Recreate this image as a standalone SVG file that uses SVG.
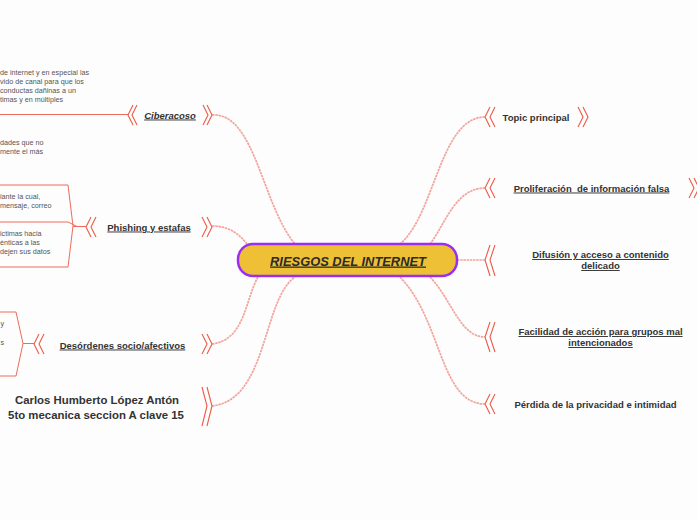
<svg xmlns="http://www.w3.org/2000/svg" width="697" height="520" viewBox="0 0 697 520">
<style>
.bg{fill:#fdfdfd}
.con{fill:none;stroke:#f2a49c;stroke-width:1.7;stroke-dasharray:2.5 0.7}
.chev{fill:none;stroke:#ec5b47;stroke-width:1.1}
.br{fill:none;stroke:#ec6b5b;stroke-width:1}
.lbl{font-family:"Liberation Sans",Arial,sans-serif;font-weight:bold;font-size:9.5px;fill:#333}
.u{text-decoration:underline}
.it{font-style:italic}
.sm{font-family:"Liberation Sans",Arial,sans-serif;font-size:7.2px;fill:#555}
.au{font-family:"Liberation Sans",Arial,sans-serif;font-weight:bold;font-size:11.4px;fill:#333}
</style>
<rect class="bg" x="0" y="0" width="697" height="520"/>
<g id="connectors">
<path class="con" d="M212,115 C255,112 262,205 295,244"/>
<path class="con" d="M212,226 C230,226 240,235 247,244"/>
<path class="con" d="M212,344 C245,340 245,300 258,277"/>
<path class="con" d="M212,406 C268,400 262,300 295,277"/>
<path class="con" d="M485,117 C440,117 435,215 400,244"/>
<path class="con" d="M485,188 C455,188 445,225 430,244"/>
<path class="con" d="M457,260 L485,260"/>
<path class="con" d="M430,277 C452,300 460,337 485,337"/>
<path class="con" d="M400,277 C442,320 440,404 485,404"/>
</g>
<g id="central">
<rect x="238" y="244" width="219" height="32" rx="15" fill="#edc035" stroke="#9b2ef2" stroke-width="2.5"/>
<text x="348" y="265.5" text-anchor="middle" font-family="Liberation Sans,Arial,sans-serif" font-weight="bold" font-style="italic" font-size="12.9" fill="#2b2b2b" text-decoration="underline">RIESGOS DEL INTERNET</text>
</g>
<g id="ciberacoso">
<path class="chev" d="M133,105 L128,115 L133,125 M137,105 L132,115 L137,125"/>
<path class="chev" d="M203,105 L208,115 L203,125 M207,105 L212,115 L207,125"/>
<text class="lbl u it" x="170" y="118.5" text-anchor="middle">Ciberacoso</text>
<path class="br" d="M0,114.5 L128,114.5"/>
</g>
<g id="ciberacoso-notes">
<text class="sm" x="0" y="74.5">de internet y en especial las</text>
<text class="sm" x="0" y="83.5">vido de canal para que los</text>
<text class="sm" x="0" y="92.5">conductas dañinas a un</text>
<text class="sm" x="0" y="101.5">timas y en múltiples</text>
<text class="sm" x="0" y="145">dades que no</text>
<text class="sm" x="0" y="154">mente el más</text>
</g>
<g id="phishing">
<path class="chev" d="M91,217 L86,227 L91,237 M96,217 L91,227 L96,237"/>
<path class="chev" d="M202,217 L207,227 L202,237 M207,217 L212,227 L207,237"/>
<text class="lbl u" x="149" y="230.5" text-anchor="middle">Phishing y estafas</text>
<path class="br" d="M0,185 L68,185 L73,226 L68,267 L0,267 M0,222 L68,222 L77,226.5 M73,226.5 L86,226.5"/>
<text class="sm" x="0" y="198.5">iante la cual,</text>
<text class="sm" x="0" y="208">mensaje, correo</text>
<text class="sm" x="0" y="235.5">ictimas hacia</text>
<text class="sm" x="0" y="244.5">énticas a las</text>
<text class="sm" x="0" y="253.5">dejen sus datos</text>
</g>
<g id="desordenes">
<path class="chev" d="M39,334 L34,344 L39,354 M44,334 L39,344 L44,354"/>
<path class="chev" d="M202,334 L207,344 L202,354 M207,334 L212,344 L207,354"/>
<text class="lbl u" x="122.5" y="348.5" text-anchor="middle">Desórdenes socio/afectivos</text>
<path class="br" d="M0,312 L16,312 L23,343.5 L16,376 L0,376 M23,343.5 L34,343.5"/>
<text class="sm" x="0.5" y="326">y</text>
<text class="sm" x="0.5" y="345">s</text>
</g>
<g id="autor">
<path class="chev" d="M202,387 L207,406 L202,426 M207,387 L212,406 L207,426"/>
<text class="au" x="97" y="404" text-anchor="middle">Carlos Humberto López Antón</text>
<text class="au" x="96" y="419" text-anchor="middle">5to mecanica seccion A clave 15</text>
</g>
<g id="topic">
<path class="chev" d="M490,107 L485,117 L490,127 M495,107 L490,117 L495,127"/>
<path class="chev" d="M578,107 L583,117 L578,127 M583,107 L588,117 L583,127"/>
<text class="lbl" x="536" y="120.5" text-anchor="middle">Topic principal</text>
</g>
<g id="proliferacion">
<path class="chev" d="M490,178 L485,188 L490,198 M495,178 L490,188 L495,198"/>
<path class="chev" d="M689,178 L694,188 L689,198 M694,178 L699,188 L694,198"/>
<text class="lbl u" x="591.5" y="191.5" text-anchor="middle" xml:space="preserve">Proliferación  de información falsa</text>
</g>
<g id="difusion">
<path class="chev" d="M490,245 L485,260 L490,276 M495,245 L490,260 L495,276"/>
<text class="lbl u" x="600.5" y="258" text-anchor="middle">Difusión y acceso a contenido</text>
<text class="lbl u" x="600.5" y="269" text-anchor="middle">delicado</text>
</g>
<g id="facilidad">
<path class="chev" d="M490,322 L485,337 L490,352 M495,322 L490,337 L495,352"/>
<text class="lbl u" x="600.5" y="335" text-anchor="middle">Facilidad de acción para grupos mal</text>
<text class="lbl u" x="600.5" y="346" text-anchor="middle">intencionados</text>
</g>
<g id="perdida">
<path class="chev" d="M490,394 L485,404 L490,414 M495,394 L490,404 L495,414"/>
<text class="lbl" x="595.5" y="407.5" text-anchor="middle">Pérdida de la privacidad e intimidad</text>
</g>
</svg>
